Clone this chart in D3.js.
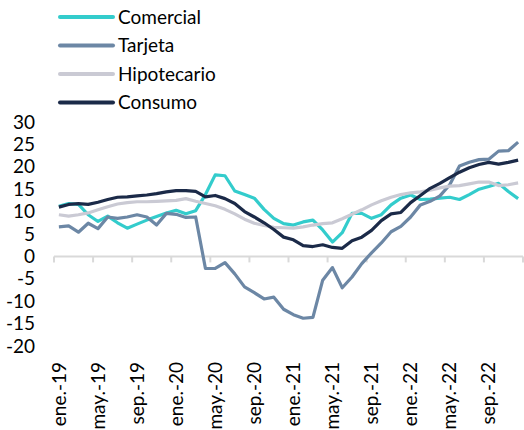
<!DOCTYPE html>
<html>
<head>
<meta charset="utf-8">
<script src="https://cdn.jsdelivr.net/npm/d3@7"></script>
<style>
  body { margin: 0; background: #fff; }
  svg text { font-family: Lato, "Open Sans", sans-serif; fill: #000; }
</style>
</head>
<body>
<div id="chart"></div>
<script>
// months ene-19 .. dic-22
var months = [
  'ene.-19','feb.-19','mar.-19','abr.-19','may.-19','jun.-19','jul.-19','ago.-19','sep.-19','oct.-19','nov.-19','dic.-19',
  'ene.-20','feb.-20','mar.-20','abr.-20','may.-20','jun.-20','jul.-20','ago.-20','sep.-20','oct.-20','nov.-20','dic.-20',
  'ene.-21','feb.-21','mar.-21','abr.-21','may.-21','jun.-21','jul.-21','ago.-21','sep.-21','oct.-21','nov.-21','dic.-21',
  'ene.-22','feb.-22','mar.-22','abr.-22','may.-22','jun.-22','jul.-22','ago.-22','sep.-22','oct.-22','nov.-22','dic.-22'
];

var seriesNames = ['Comercial', 'Tarjeta', 'Hipotecario', 'Consumo'];

var comercial = [11.2, 11.8, 11.6, 9.3, 7.8, 9.0, 7.5, 6.3, 7.2, 8.1, 8.9, 9.7,
  10.3, 9.5, 10.2, 13.8, 18.2, 18.0, 14.6, 13.8, 13.0, 10.5, 8.5, 7.3,
  7.0, 7.7, 8.1, 5.9, 3.2, 5.3, 9.6, 9.6, 8.5, 9.3, 11.5, 13.0,
  13.7, 12.7, 12.8, 13.0, 13.2, 12.7, 13.8, 15.0, 15.6, 16.3, 14.5, 12.9];

var tarjeta = [6.6, 6.8, 5.4, 7.4, 6.2, 8.8, 8.5, 8.8, 9.3, 8.8, 7.0, 9.6,
  9.4, 8.7, 8.8, -2.7, -2.7, -1.4, -3.9, -6.8, -8.1, -9.5, -9.1, -11.8,
  -13.0, -13.8, -13.6, -5.3, -2.5, -7.0, -4.6, -1.6, 0.8, 3.0, 5.5, 6.7,
  8.8, 11.5, 12.3, 13.5, 16.0, 20.2, 21.0, 21.6, 21.7, 23.5, 23.6, 25.5];

var hipotecario = [9.3, 9.0, 9.3, 9.7, 10.4, 11.1, 11.7, 12.0, 12.2, 12.2, 12.3, 12.4,
  12.5, 12.9, 12.3, 11.8, 11.3, 10.5, 9.5, 8.3, 7.4, 6.9, 6.5, 6.4,
  6.3, 6.6, 7.0, 7.3, 7.5, 8.4, 9.4, 10.4, 11.5, 12.4, 13.2, 13.8,
  14.2, 14.4, 14.8, 15.3, 15.7, 15.8, 16.2, 16.6, 16.6, 15.8, 16.0, 16.4];

var consumo = [11.0, 11.6, 11.8, 11.6, 12.1, 12.7, 13.2, 13.3, 13.5, 13.7, 14.0, 14.4,
  14.7, 14.7, 14.5, 13.3, 13.6, 12.9, 11.8, 10.0, 8.8, 7.5, 6.0, 4.3,
  3.7, 2.4, 2.2, 2.6, 2.0, 1.8, 3.5, 4.3, 5.8, 8.0, 9.5, 9.8,
  12.0, 13.6, 15.2, 16.3, 17.6, 18.8, 19.8, 20.5, 21.0, 20.6, 21.0, 21.5];

var yTicks = [30, 25, 20, 15, 10, 5, 0, -5, -10, -15, -20];
var colors = ['#33CCCC', '#6C87A5', '#CACAD4', '#1B2A48'];

var width = 524, height = 430;
var allSeries = [comercial, tarjeta, hipotecario, consumo];

var svg = d3.select('#chart').append('svg')
  .attr('width', width)
  .attr('height', height);

var x = d3.scaleBand()
  .domain(months)
  .range([54, 523])
  .padding(0);

var y = d3.scaleLinear()
  .domain([-20, 30])
  .range([346, 122]);

// y axis labels
var yAxis = svg.append('g')
  .attr('transform', 'translate(54,0)')
  .call(d3.axisLeft(y).tickValues(yTicks).tickSize(0).tickPadding(19).tickFormat(d3.format('d')));
yAxis.select('.domain').remove();
yAxis.selectAll('text')
  .style('font-size', '19px')
  .text(function(d) { return d < 0 ? '-' + Math.abs(d) : d; });

// zero line with category ticks
var axisG = svg.append('g');
axisG.append('line')
  .attr('x1', x.range()[0]).attr('x2', x.range()[1])
  .attr('y1', y(0)).attr('y2', y(0))
  .attr('stroke', '#d9d9d9')
  .attr('stroke-width', 2);

var tickPos = months.filter(function(d, i) { return i % 4 === 0; }).map(function(d) { return x(d); });
tickPos.push(x.range()[1]);
axisG.selectAll('line.tick')
  .data(tickPos)
  .enter().append('line')
  .attr('class', 'tick')
  .attr('x1', function(d) { return d; }).attr('x2', function(d) { return d; })
  .attr('y1', y(0)).attr('y2', y(0) + 6)
  .attr('stroke', '#d9d9d9')
  .attr('stroke-width', 2);

// x labels (rotated)
var xAxis = svg.append('g')
  .attr('transform', 'translate(0,362)')
  .call(d3.axisBottom(x)
    .tickValues(months.filter(function(d, i) { return i % 4 === 0; }))
    .tickSize(0));
xAxis.select('.domain').remove();
xAxis.selectAll('text')
  .style('font-size', '19px')
  .attr('transform', 'rotate(-90)')
  .attr('text-anchor', 'end')
  .attr('x', 0)
  .attr('y', 0)
  .attr('dy', '0.35em');

// lines
var line = d3.line()
  .x(function(d, i) { return x(months[i]) + x.bandwidth() / 2; })
  .y(function(d) { return y(d); });

svg.append('g').selectAll('path')
  .data(allSeries)
  .enter().append('path')
  .attr('d', line)
  .attr('fill', 'none')
  .attr('stroke', function(d, i) { return colors[i]; })
  .attr('stroke-width', 3.2)
  .attr('stroke-linejoin', 'round');

// legend
var legend = svg.append('g').selectAll('g')
  .data(seriesNames)
  .enter().append('g')
  .attr('transform', function(d, i) { return 'translate(60,' + (17 + i * 28.5) + ')'; });

legend.append('line')
  .attr('x1', 0).attr('x2', 53)
  .attr('stroke', function(d, i) { return colors[i]; })
  .attr('stroke-width', 4)
  .attr('stroke-linecap', 'round');

legend.append('text')
  .attr('x', 58)
  .attr('dy', '0.35em')
  .style('font-size', '19px')
  .text(function(d) { return d; });
</script>
</body>
</html>
